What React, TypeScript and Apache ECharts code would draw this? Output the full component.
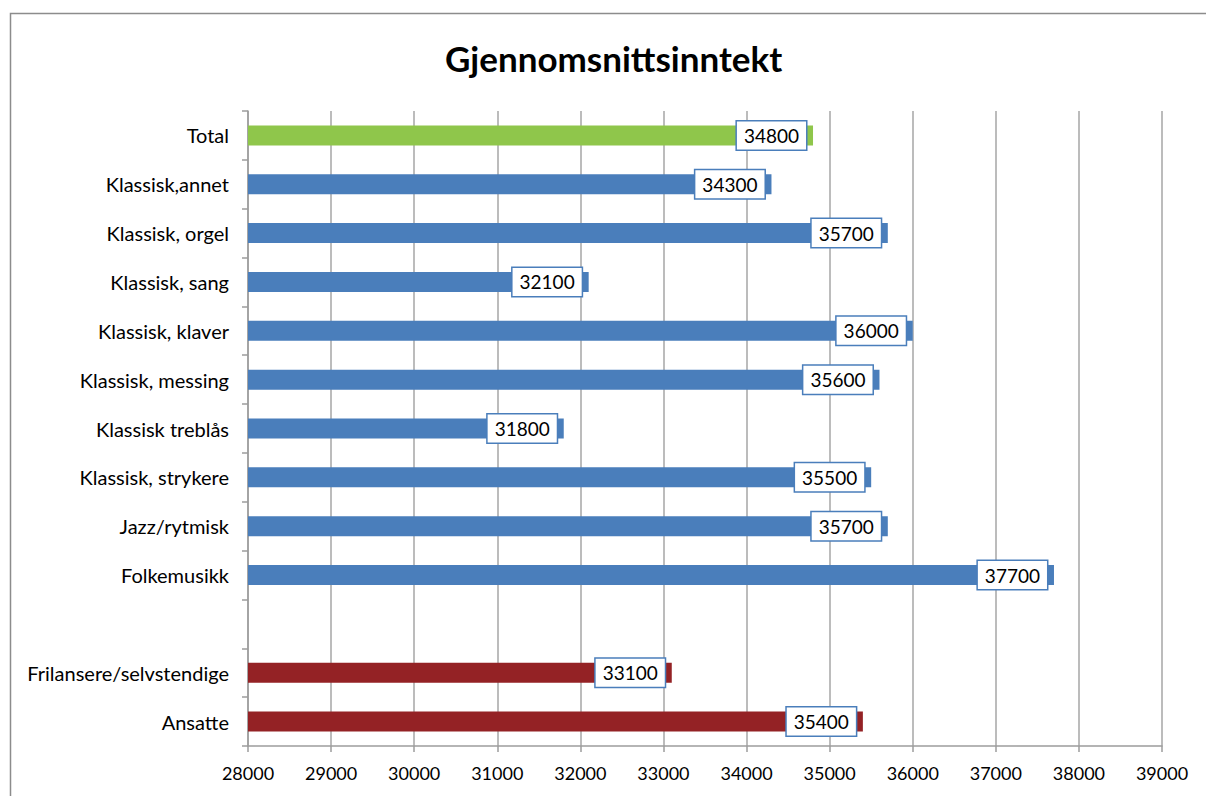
import React, { useEffect, useRef } from "react";
import * as echarts from "echarts";

const categories = [
  "Total",
  "Klassisk,annet",
  "Klassisk, orgel",
  "Klassisk, sang",
  "Klassisk, klaver",
  "Klassisk, messing",
  "Klassisk treblås",
  "Klassisk, strykere",
  "Jazz/rytmisk",
  "Folkemusikk",
  "",
  "Frilansere/selvstendige",
  "Ansatte",
];
const values: (number | null)[] = [
  34800, 34300, 35700, 32100, 36000, 35600, 31800, 35500, 35700, 37700, null, 33100, 35400,
];
const groups = ["total", "blue", "blue", "blue", "blue", "blue", "blue", "blue", "blue", "blue", "none", "red", "red"];
const groupColors: Record<string, string> = {
  total: "#8fc64b",
  blue: "#4a7ebb",
  red: "#942225",
  none: "#ffffff",
};

const FONT = "Lato, 'Open Sans', sans-serif";

export default function App() {
  const ref = useRef<HTMLDivElement>(null);
  useEffect(() => {
    if (!ref.current) return;
    const chart = echarts.init(ref.current, undefined, { renderer: "svg" });
    chart.setOption({
      animation: false,
      backgroundColor: "#ffffff",
      title: {
        text: "Gjennomsnittsinntekt",
        left: 440,
        top: 35,
        textStyle: { fontFamily: FONT, fontSize: 35, fontWeight: "bold", color: "#000" },
      },
      graphic: [
        {
          type: "rect",
          shape: { x: 10.5, y: 13.5, width: 1200, height: 800 },
          style: { fill: "none", stroke: "#8c8c8c", lineWidth: 1.5 },
          silent: true,
        },
      ],
      grid: { left: 248, right: 44, top: 111, bottom: 50, containLabel: false },
      xAxis: {
        type: "value",
        min: 28000,
        max: 39000,
        interval: 1000,
        axisLine: { show: true, lineStyle: { color: "#9c9c9c", width: 1.5 } },
        axisTick: { show: true, length: 6, lineStyle: { color: "#9c9c9c", width: 1.5 } },
        axisLabel: {
          margin: 18,
          fontFamily: FONT,
          fontSize: 18,
          color: "#000",
          formatter: (v: number) => String(v),
        },
        splitLine: { show: true, lineStyle: { color: "#a6a6a6", width: 1.5 } },
      },
      yAxis: {
        type: "category",
        inverse: true,
        data: categories,
        axisLine: { show: true, lineStyle: { color: "#9c9c9c", width: 1.5 } },
        axisTick: { show: true, length: 6, lineStyle: { color: "#9c9c9c", width: 1.5 } },
        axisLabel: { margin: 19, fontFamily: FONT, fontSize: 20, color: "#000" },
        splitLine: { show: false },
      },
      series: [
        {
          type: "bar",
          barWidth: 20,
          data: values.map((v, i) => ({
            value: v,
            itemStyle: { color: groupColors[groups[i]] },
          })),
          label: {
            show: true,
            position: "insideRight",
            distance: 7,
            fontFamily: FONT,
            fontSize: 19,
            color: "#000",
            backgroundColor: "#ffffff",
            borderColor: "#4a7ebb",
            borderWidth: 1.5,
            padding: [5, 7, 4, 7],
          },
        },
      ],
    });
    return () => chart.dispose();
  }, []);
  return (
    <div
      ref={ref}
      style={{ position: "fixed", left: 0, top: 0, width: 1206, height: 796 }}
    />
  );
}
